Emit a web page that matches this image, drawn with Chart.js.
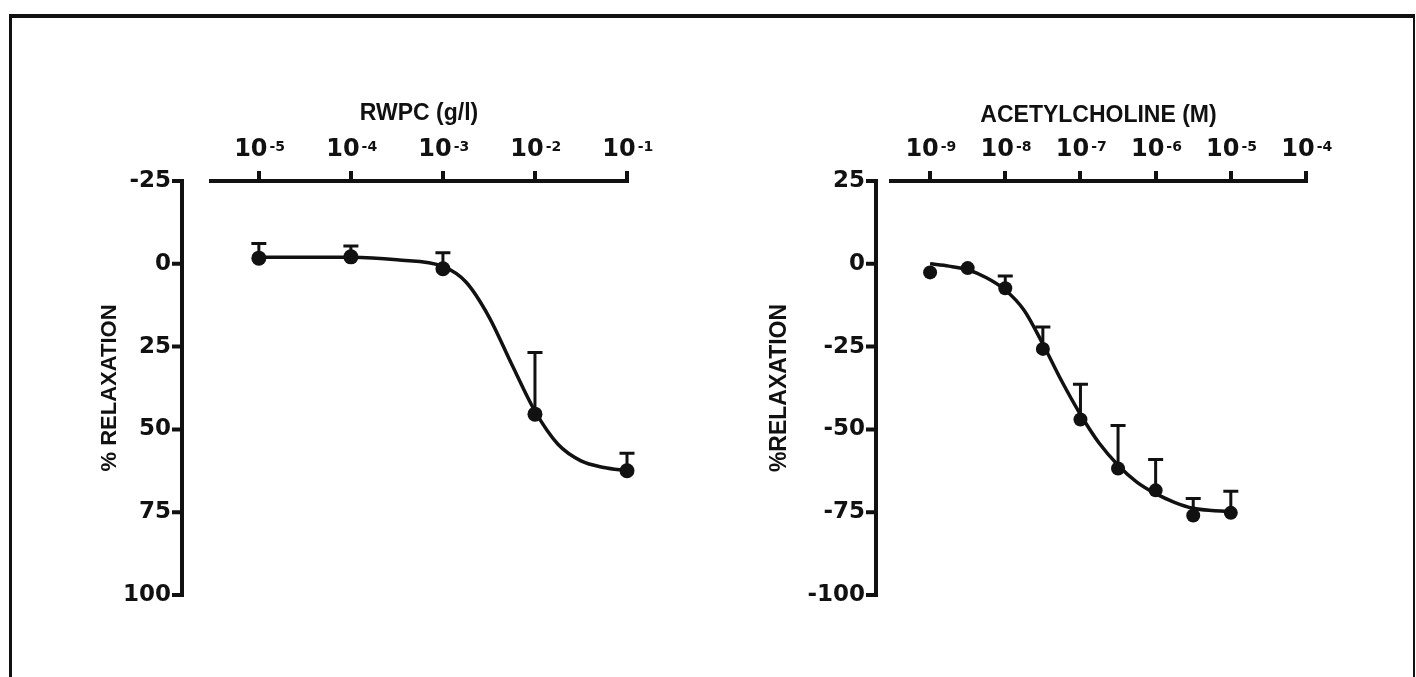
<!DOCTYPE html>
<html>
<head>
<meta charset="utf-8">
<script src="https://cdn.jsdelivr.net/npm/chart.js@4.4.0/dist/chart.umd.min.js"></script>
<style>
  html, body { margin: 0; padding: 0; background: #fff; }
  body { width: 1416px; height: 677px; position: relative; overflow: hidden; }
  #frame { position: absolute; left: 9px; top: 14px; width: 1401px; height: 700px;
           border-top: 4px solid #111; border-left: 3px solid #111; border-right: 2px solid #111; }
  .panel { position: absolute; top: 0; height: 677px; }
  #left { left: 0; width: 700px; }
  #right { left: 700px; width: 716px; }
</style>
</head>
<body>
<div id="frame"></div>
<div class="panel" id="left"><canvas id="rwpc" width="700" height="677"></canvas></div>
<div class="panel" id="right"><canvas id="ach" width="716" height="677"></canvas></div>
<script>
// ---- left panel: RWPC (g/l) ----
const rwpcTicks = [1e-5, 1e-4, 1e-3, 1e-2, 1e-1];
const rwpcTickExp = ["-5", "-4", "-3", "-2", "-1"];
const rwpcConc = [1e-5, 1e-4, 1e-3, 1e-2, 1e-1];
const rwpcMean = [-1.7, -2.1, 1.5, 45.4, 62.5];
const rwpcSem = [4.4, 3.3, 4.8, 18.6, 5.3];
// fitted curve (log10 of concentration -> % relaxation)
const rwpcFitLogC = [-5, -4, -3.5, -3, -2.75, -2.5, -2.25, -2, -1.75, -1.5, -1.25, -1];
const rwpcFit = [-2.0, -2.0, -1.2, 0.8, 5.5, 16.0, 30.5, 44.5, 54.5, 59.5, 61.5, 62.5];
const rwpcYTicks = [-25, 0, 25, 50, 75, 100];

// ---- right panel: ACETYLCHOLINE (M) ----
const achTicks = [1e-9, 1e-8, 1e-7, 1e-6, 1e-5, 1e-4];
const achTickExp = ["-9", "-8", "-7", "-6", "-5", "-4"];
const achLogC = [-9, -8.5, -8, -7.5, -7, -6.5, -6, -5.5, -5];
const achMean = [-2.6, -1.3, -7.4, -25.7, -47.0, -61.8, -68.4, -76.0, -75.2];
const achSem = [0, 0, 3.7, 6.6, 10.6, 13.0, 9.3, 5.1, 6.5];
const achFitLogC = [-9, -8.75, -8.5, -8.25, -8, -7.75, -7.5, -7.25, -7, -6.75, -6.5, -6.25, -6, -5.75, -5.5, -5.25, -5];
const achFit = [0.0, -0.7, -1.8, -4.2, -7.9, -14.0, -24.2, -35.4, -45.5, -54.2, -60.8, -65.9, -69.4, -72.0, -73.8, -74.5, -74.8];
const achYTicks = [-100, -75, -50, -25, 0, 25];

const INK = "#111";
const TITLE_FONT = "'Liberation Sans', Arial, sans-serif";
const TICK_FONT = "'DejaVu Sans', 'Liberation Sans', sans-serif";
Chart.defaults.font.family = TITLE_FONT;
Chart.defaults.color = INK;

// y axis drawn detached from the plot area, like the original (Prism style)
const offsetAxis = {
  id: "offsetAxis",
  afterDraw(chart, args, opts) {
    const y = chart.scales.y, ctx = chart.ctx;
    ctx.save();
    ctx.strokeStyle = INK;
    ctx.lineWidth = 4;
    ctx.beginPath();
    ctx.moveTo(opts.x, y.top - 2);
    ctx.lineTo(opts.x, y.bottom + 2);
    y.ticks.forEach(t => {
      const py = y.getPixelForValue(t.value);
      ctx.moveTo(opts.x, py);
      ctx.lineTo(opts.x - 10, py);
    });
    ctx.stroke();
    ctx.restore();
  }
};

// exponent of the "10" tick labels, written as a superscript
const tickExponents = {
  id: "tickExponents",
  afterDraw(chart, args, opts) {
    const x = chart.scales.x, ctx = chart.ctx;
    const t = x.options.ticks, g = x.options.grid;
    const base = Chart.helpers.toFont(t.font);
    const mid = x.bottom - g.tickLength - t.padding - base.lineHeight / 2;
    ctx.save();
    ctx.fillStyle = INK;
    ctx.font = base.string;
    const w = ctx.measureText("10").width;
    ctx.font = "bold 14px " + TICK_FONT;
    ctx.textAlign = "left";
    ctx.textBaseline = "alphabetic";
    x.ticks.forEach((tk, i) => {
      const px = x.getPixelForValue(tk.value) + t.labelOffset;
      ctx.fillText(opts.exp[i], px + w / 2 + 2, mid - base.size * 0.3645 + 10.5);
    });
    ctx.restore();
  }
};

// one-sided SEM bars
const errorBars = {
  id: "errorBars",
  beforeDatasetsDraw(chart) {
    const {x, y} = chart.scales, ctx = chart.ctx;
    chart.data.datasets.forEach(ds => {
      if (!ds.errors) return;
      ctx.save();
      ctx.strokeStyle = INK;
      ctx.lineWidth = 3;
      ds.data.forEach((p, i) => {
        const e = ds.errors[i];
        if (!e) return;
        const px = x.getPixelForValue(p.x);
        const p0 = y.getPixelForValue(p.y);
        const p1 = y.getPixelForValue(p.y + ds.errorDir * e);
        ctx.beginPath();
        ctx.moveTo(px, p0);
        ctx.lineTo(px, p1);
        ctx.moveTo(px - 7.5, p1);
        ctx.lineTo(px + 7.5, p1);
        ctx.stroke();
      });
      ctx.restore();
    });
  }
};

function makePanel(id, cfg) {
  const points = cfg.conc.map((c, i) => ({x: c, y: cfg.mean[i]}));
  const curve = cfg.fitLogC.map((l, i) => ({x: Math.pow(10, l), y: cfg.fit[i]}));
  return new Chart(document.getElementById(id), {
    type: "scatter",
    data: {
      datasets: [
        { data: points, pointRadius: cfg.dot, pointHoverRadius: cfg.dot, backgroundColor: INK, borderWidth: 0,
          errors: cfg.sem, errorDir: cfg.errorDir, clip: false },
        { data: curve, showLine: true, pointRadius: 0, borderColor: INK, borderWidth: 3.5,
          cubicInterpolationMode: "monotone", clip: false }
      ]
    },
    options: {
      responsive: false,
      animation: false,
      layout: { padding: { left: 0, top: 0, right: cfg.padRight, bottom: 82 } },
      plugins: {
        legend: { display: false },
        tooltip: { enabled: false },
        offsetAxis: { x: cfg.axisX },
        tickExponents: { exp: cfg.xTickExp }
      },
      scales: {
        x: {
          type: "logarithmic",
          position: "top",
          min: cfg.xMin,
          max: cfg.xMax,
          afterBuildTicks: s => { s.ticks = cfg.xTicks.map(v => ({value: v})); },
          afterFit: s => { s.height = 181; },
          ticks: {
            callback: () => "10",
            font: { family: TICK_FONT, size: 24, weight: "bold" }, color: INK,
            padding: 7, labelOffset: -8, maxRotation: 0, autoSkip: false
          },
          grid: { drawOnChartArea: false, tickLength: 10, lineWidth: 4, color: INK },
          border: { color: INK, width: 4 },
          title: { display: true, text: cfg.xTitle, color: INK, font: { size: 23, weight: "bold" },
                   padding: { top: cfg.xTitleTop, bottom: 0 } }
        },
        y: {
          type: "linear",
          min: cfg.yMin,
          max: cfg.yMax,
          reverse: cfg.reverse,
          afterBuildTicks: s => { s.ticks = cfg.yTicks.map(v => ({value: v})); },
          afterFit: s => { s.width = cfg.areaLeft; },
          ticks: { font: { family: TICK_FONT, size: 23, weight: "bold" }, color: INK, padding: cfg.yTickPad },
          grid: { display: false, drawTicks: false },
          border: { display: false },
          title: { display: true, text: cfg.yTitle, color: INK, font: { size: cfg.yTitleSize, weight: "bold" },
                   padding: { top: cfg.yTitleTop, bottom: 0 } }
        }
      }
    },
    plugins: [errorBars, offsetAxis, tickExponents]
  });
}

makePanel("rwpc", {
  conc: rwpcConc, mean: rwpcMean, sem: rwpcSem, errorDir: -1, dot: 7.5,
  fitLogC: rwpcFitLogC, fit: rwpcFit,
  xTicks: rwpcTicks, xTickExp: rwpcTickExp, xMin: Math.pow(10, -5.52), xMax: 1e-1,
  xTitle: "RWPC (g/l)", xTitleTop: 100,
  yTicks: rwpcYTicks, yMin: -25, yMax: 100, reverse: true,
  yTitle: "% RELAXATION", yTitleSize: 22, yTitleTop: 97,
  areaLeft: 211, axisX: 182, yTickPad: 40, padRight: 73
});

makePanel("ach", {
  conc: achLogC.map(l => Math.pow(10, l)), mean: achMean, sem: achSem, errorDir: 1, dot: 7,
  fitLogC: achFitLogC, fit: achFit,
  xTicks: achTicks, xTickExp: achTickExp, xMin: Math.pow(10, -9.52), xMax: 1e-4,
  xTitle: "ACETYLCHOLINE (M)", xTitleTop: 102,
  yTicks: achYTicks, yMin: -100, yMax: 25, reverse: false,
  yTitle: "%RELAXATION", yTitleSize: 23, yTitleTop: 66,
  areaLeft: 191, axisX: 176, yTickPad: 26, padRight: 110
});
</script>
</body>
</html>
